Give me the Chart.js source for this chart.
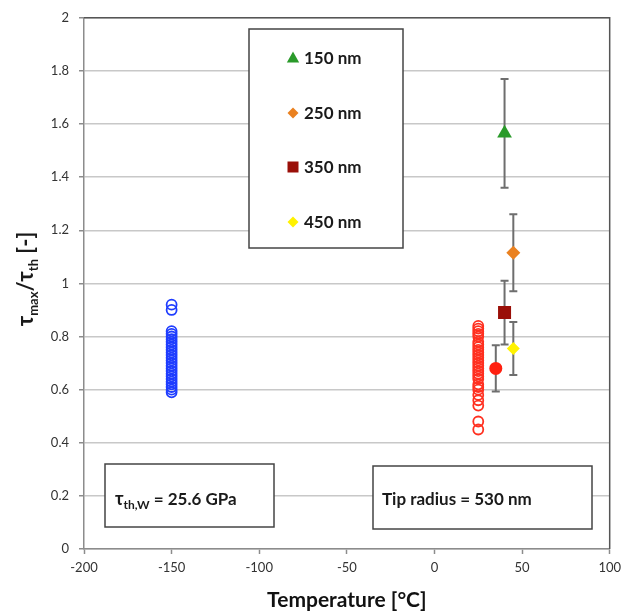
<!DOCTYPE html>
<html><head><meta charset="utf-8">
<script src="https://cdn.jsdelivr.net/npm/chart.js@4"></script>
<style>html,body{margin:0;padding:0;background:#fff;}</style>
</head><body>
<canvas id="c" width="627" height="616"></canvas>
<script>
// ---- data ----
const xTickValues = [-200, -150, -100, -50, 0, 50, 100];
const xTickLabels = ['-200', '-150', '-100', '-50', '0', '50', '100'];
const yTickValues = [0, 0.2, 0.4, 0.6, 0.8, 1, 1.2, 1.4, 1.6, 1.8, 2];
const yTickLabels = ['0', '0.2', '0.4', '0.6', '0.8', '1', '1.2', '1.4', '1.6', '1.8', '2'];

const blueTemp = -150;
const blueRatios = [0.92, 0.90, 0.82, 0.81, 0.80, 0.79, 0.78, 0.77, 0.76, 0.75, 0.74, 0.73, 0.72,
  0.71, 0.70, 0.69, 0.68, 0.67, 0.66, 0.65, 0.64, 0.63, 0.62, 0.61, 0.60, 0.59];

const redTemp = 25;
const redRatios = [0.84, 0.83, 0.82, 0.81, 0.80, 0.78, 0.77, 0.76, 0.75, 0.74, 0.73, 0.72, 0.71,
  0.70, 0.69, 0.68, 0.67, 0.66, 0.65, 0.64, 0.62, 0.61, 0.60, 0.58, 0.56, 0.54, 0.48, 0.45];

const tipLabels = ['150 nm', '250 nm', '350 nm', '450 nm', '530 nm'];
const tipTemps  = [40, 45, 40, 45, 35];
const tipRatios = [1.565, 1.115, 0.89, 0.755, 0.68];
const tipErrors = [0.205, 0.145, 0.12, 0.10, 0.087];

// ---- styles ----
const tipColors = ['#2a9a2a', '#ea8120', '#9a0f08', '#fff200', '#ff2010'];
const tipStyles = ['triangle', 'rectRot', 'rect', 'rectRot', 'circle'];
const tipRadius = [8.5, 7, 9.2, 6.5, 6.5];
const tipInLegend = [true, true, true, true, false];
const FONT = 'Lato, "Open Sans", "DejaVu Sans", sans-serif';

const datasets = [];
tipLabels.forEach((lab, i) => {
  datasets.push({
    label: lab,
    data: [{x: tipTemps[i], y: tipRatios[i]}],
    pointStyle: tipStyles[i],
    pointRadius: tipRadius[i],
    backgroundColor: tipColors[i],
    borderColor: tipColors[i],
    borderWidth: 0
  });
});
datasets.push({
  label: 'W -150',
  data: blueRatios.map(v => ({x: blueTemp, y: v})),
  pointStyle: 'circle', pointRadius: 5, borderWidth: 1.8,
  borderColor: '#1f3dff', backgroundColor: 'rgba(0,0,0,0)'
});
datasets.push({
  label: 'W 25',
  data: redRatios.map(v => ({x: redTemp, y: v})),
  pointStyle: 'circle', pointRadius: 5, borderWidth: 1.8,
  borderColor: '#ff3020', backgroundColor: 'rgba(0,0,0,0)'
});

const errorBars = {
  id: 'errorBars',
  beforeDatasetsDraw(chart) {
    const {ctx, scales: {x, y}} = chart;
    ctx.save();
    ctx.strokeStyle = '#6e6e6e';
    ctx.lineWidth = 2;
    tipTemps.forEach((t, i) => {
      const px = x.getPixelForValue(t);
      const top = y.getPixelForValue(tipRatios[i] + tipErrors[i]);
      const bot = y.getPixelForValue(tipRatios[i] - tipErrors[i]);
      ctx.beginPath();
      ctx.moveTo(px, top); ctx.lineTo(px, bot);
      ctx.moveTo(px - 4, top); ctx.lineTo(px + 4, top);
      ctx.moveTo(px - 4, bot); ctx.lineTo(px + 4, bot);
      ctx.stroke();
    });
    ctx.restore();
  }
};

function marker(ctx, style, cx, cy, r, color) {
  ctx.fillStyle = color;
  ctx.beginPath();
  if (style === 'triangle') {
    ctx.moveTo(cx, cy - r); ctx.lineTo(cx + r * 0.95, cy + r * 0.7); ctx.lineTo(cx - r * 0.95, cy + r * 0.7);
  } else if (style === 'rectRot') {
    ctx.moveTo(cx, cy - r); ctx.lineTo(cx + r, cy); ctx.lineTo(cx, cy + r); ctx.lineTo(cx - r, cy);
  } else if (style === 'rect') {
    ctx.rect(cx - r, cy - r, 2 * r, 2 * r);
  } else {
    ctx.arc(cx, cy, r, 0, Math.PI * 2);
  }
  ctx.closePath();
  ctx.fill();
}

const decor = {
  id: 'decor',
  afterDraw(chart) {
    const {ctx, chartArea: a} = chart;
    ctx.save();
    // top & right frame
    ctx.strokeStyle = '#555';
    ctx.lineWidth = 1.5;
    ctx.beginPath();
    ctx.moveTo(a.left, a.top); ctx.lineTo(a.right, a.top); ctx.lineTo(a.right, a.bottom);
    ctx.stroke();

    // legend box
    ctx.fillStyle = '#fff';
    ctx.fillRect(249, 29, 154, 219);
    ctx.strokeStyle = '#444';
    ctx.lineWidth = 1.5;
    ctx.strokeRect(249, 29, 154, 219);
    const rowsY = [58, 113, 167, 222];
    const legR = [6.5, 5.5, 5.5, 5.5];
    let k = 0;
    ctx.font = 'bold 17px ' + FONT;
    ctx.textBaseline = 'middle';
    tipLabels.forEach((lab, i) => {
      if (!tipInLegend[i]) return;
      const yy = rowsY[k];
      marker(ctx, tipStyles[i], 293, yy, legR[k], tipColors[i]);
      ctx.fillStyle = '#1a1a1a';
      ctx.textAlign = 'left';
      ctx.fillText(lab, 304, yy + 1);
      k++;
    });

    // annotation boxes
    ctx.fillStyle = '#fff';
    ctx.fillRect(105, 464, 169, 63);
    ctx.fillRect(373, 466, 219, 63);
    ctx.strokeStyle = '#444';
    ctx.strokeRect(105, 464, 169, 63);
    ctx.strokeRect(373, 466, 219, 63);
    ctx.fillStyle = '#1a1a1a';
    ctx.textBaseline = 'alphabetic';
    ctx.textAlign = 'left';
    let px = 115;
    ctx.font = 'bold 18px ' + FONT;
    ctx.fillText('τ', px, 505); px += ctx.measureText('τ').width;
    ctx.font = 'bold 12px ' + FONT;
    ctx.fillText('th,W', px, 509); px += ctx.measureText('th,W').width;
    ctx.font = 'bold 17px ' + FONT;
    ctx.fillText(' = 25.6 GPa', px, 505);
    ctx.fillText('Tip radius = 530 nm', 382, 505);

    // y title with subscripts (rotated)
    const parts = [
      ['τ', 'bold 22px ' + FONT, 0],
      ['max', 'bold 13px ' + FONT, 5],
      ['/τ', 'bold 22px ' + FONT, 0],
      ['th', 'bold 13px ' + FONT, 5],
      [' [-]', 'bold 22px ' + FONT, 0]
    ];
    let W = 0;
    parts.forEach(p => { ctx.font = p[1]; W += ctx.measureText(p[0]).width; });
    ctx.translate(33, 279);
    ctx.rotate(-Math.PI / 2);
    let xx = -W / 2;
    parts.forEach(p => {
      ctx.font = p[1];
      ctx.fillText(p[0], xx, p[2]);
      xx += ctx.measureText(p[0]).width;
    });
    ctx.restore();
  }
};

new Chart(document.getElementById('c'), {
  type: 'scatter',
  data: {datasets},
  options: {
    responsive: false,
    animation: false,
    devicePixelRatio: 1,
    layout: {padding: {top: 12, right: 13, left: 0, bottom: 0}},
    plugins: {legend: {display: false}, tooltip: {enabled: false}},
    scales: {
      x: {
        type: 'linear', min: -200, max: 100,
        afterBuildTicks(s) { s.ticks = xTickValues.map(v => ({value: v})); },
        afterFit(s) { s.height = 67; },
        ticks: {font: {family: FONT, size: 13}, color: '#333', padding: 6, maxRotation: 0,
                callback: (v, i) => xTickLabels[i]},
        grid: {drawOnChartArea: false, drawTicks: true, tickLength: 5, tickColor: '#8c8c8c', tickWidth: 1.5},
        border: {color: '#8c8c8c', width: 1.5},
        title: {display: true, text: 'Temperature [°C]', font: {family: FONT, size: 21, weight: 'bold'},
                color: '#111', padding: {top: 0, bottom: 3}}
      },
      y: {
        min: 0, max: 2,
        afterBuildTicks(s) { s.ticks = yTickValues.map(v => ({value: v})); },
        afterFit(s) { s.width = 84; },
        ticks: {font: {family: FONT, size: 13}, color: '#333', padding: 10,
                callback: (v, i) => yTickLabels[i]},
        grid: {color: '#c8c8c8', lineWidth: 1.5, tickLength: 5, tickColor: '#8c8c8c', tickWidth: 1.5},
        border: {color: '#8c8c8c', width: 1.5}
      }
    }
  },
  plugins: [errorBars, decor]
});
</script>
</body></html>
